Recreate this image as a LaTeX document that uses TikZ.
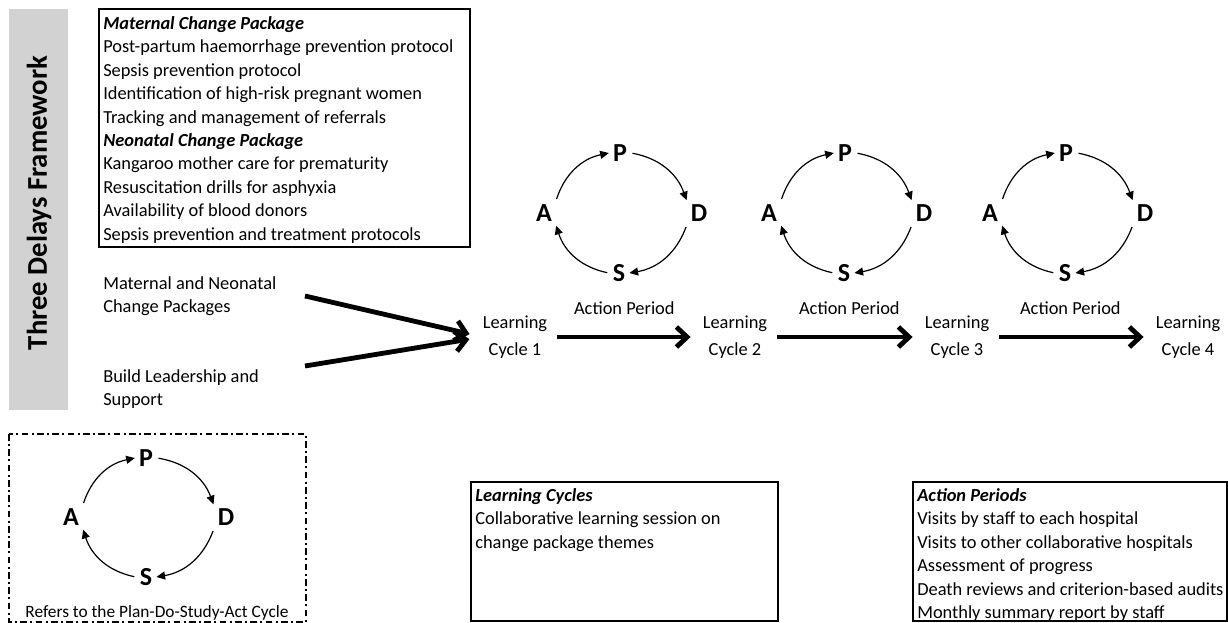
\documentclass[tikz,border=0pt]{standalone}
\usepackage{fontspec}
\setmainfont{Carlito}
\usetikzlibrary{arrows.meta,positioning}
\tikzset{
    x=0.75pt, y=-0.75pt, % one unit is one pixel of the sketch, y runs downwards
    every node/.style={inner sep=0pt, font=\fontsize{13.8}{17.6}\selectfont},
    pdsa/.style={inner sep=3pt, font=\fontsize{19.5}{19.5}\selectfont\bfseries}, % the P, D, S, A letters
    turn/.style={-{Triangle[length=6.5pt,width=6pt]}, line width=0.9pt, bend left=30,
        shorten <=1pt}, % arcs of a cycle
    bigarrow/.style={line width=3.6pt, -{Straight Barb[length=8pt,width=15pt]},
        preaction={draw=black!25, transform canvas={shift={(1.2pt,-1.2pt)}}}},
    listbox/.style={draw, line width=0.8pt},
    lcycle/.style={align=center, font=\fontsize{13.8}{20.3}\selectfont},
}
\begin{document}
\begin{tikzpicture}
  \useasboundingbox (0,0) rectangle (1228,623);

  % Three delays bar
  \fill[gray!35] (9,9) rectangle (68,410);
  \node[rotate=90, font=\fontsize{21.5}{21.5}\selectfont\bfseries] (tdf) at (39,203) {Three Delays Framework};

  % change packages
  \draw[listbox] (99,9) rectangle (470,247);
  \node[anchor=north west, align=left] (pkg) at (103,16) {\textbf{\textit{Maternal Change Package}}\\
    Post-partum haemorrhage prevention protocol\\
    Sepsis prevention protocol\\
    Identification of high-risk pregnant women\\
    Tracking and management of referrals\\
    \textbf{\textit{Neonatal Change Package}}\\
    Kangaroo mother care for prematurity\\
    Resuscitation drills for asphyxia\\
    Availability of blood donors\\
    Sepsis prevention and treatment protocols};

  \node[anchor=west, align=left] (mncp) at (103,296) {Maternal and Neonatal\\Change Packages};
  \node[anchor=west, align=left] (bls) at (103,389) {Build Leadership and\\Support};
  \coordinate (mncp_out) at (305,296);
  \coordinate (bls_out) at (305,366);

  % learning cycles
  \node[lcycle] (lc_1) at (515,337) {Learning\\Cycle 1};
  \node[lcycle] (lc_2) at (735,337) {Learning\\Cycle 2};
  \node[lcycle] (lc_3) at (957,337) {Learning\\Cycle 3};
  \node[lcycle] (lc_4) at (1188,337) {Learning\\Cycle 4};

  \draw[bigarrow, shorten >=10pt] (mncp_out) -- (lc_1.west);
  \draw[bigarrow, shorten >=10pt] (bls_out) -- (lc_1.west);
  \draw[bigarrow, shorten <=7pt, shorten >=9pt] (lc_1) -- (lc_2);
  \draw[bigarrow, shorten <=7pt, shorten >=9pt] (lc_2) -- (lc_3);
  \draw[bigarrow, shorten <=7pt, shorten >=9pt] (lc_3) -- (lc_4);

  % action periods
  \node[pdsa] (p_1) at (620,153) {P};
  \node[pdsa] (d_1) at (699,213) {D};
  \node[pdsa] (s_1) at (619,273) {S};
  \node[pdsa] (a_1) at (544,213) {A};
  \node[below=12pt of s_1, xshift=4pt] (ap_1) {Action Period};
  \path[turn] (p_1.east) edge (d_1.north west) (d_1.south west) edge (s_1.east)
              (s_1.west) edge (a_1.south east) (a_1.north east) edge (p_1.west);

  \node[pdsa] (p_2) at (845,153) {P};
  \node[pdsa] (d_2) at (924,213) {D};
  \node[pdsa] (s_2) at (844,273) {S};
  \node[pdsa] (a_2) at (769,213) {A};
  \node[below=12pt of s_2, xshift=4pt] (ap_2) {Action Period};
  \path[turn] (p_2.east) edge (d_2.north west) (d_2.south west) edge (s_2.east)
              (s_2.west) edge (a_2.south east) (a_2.north east) edge (p_2.west);

  \node[pdsa] (p_3) at (1066,153) {P};
  \node[pdsa] (d_3) at (1145,213) {D};
  \node[pdsa] (s_3) at (1065,273) {S};
  \node[pdsa] (a_3) at (990,213) {A};
  \node[below=12pt of s_3, xshift=4pt] (ap_3) {Action Period};
  \path[turn] (p_3.east) edge (d_3.north west) (d_3.south west) edge (s_3.east)
              (s_3.west) edge (a_3.south east) (a_3.north east) edge (p_3.west);

  % legend
  \draw[dash pattern=on 5pt off 2.5pt on 1.5pt off 2.5pt, line width=0.8pt] (9,434) rectangle (306,622);
  \node[pdsa] (p_0) at (146,458) {P};
  \node[pdsa] (d_0) at (226,517) {D};
  \node[pdsa] (s_0) at (146,577) {S};
  \node[pdsa] (a_0) at (71,517) {A};
  \path[turn] (p_0.east) edge (d_0.north west) (d_0.south west) edge (s_0.east)
              (s_0.west) edge (a_0.south east) (a_0.north east) edge (p_0.west);
  \node[anchor=base, font=\fontsize{13}{16}\selectfont] (pdsa_note) at (157,617) {Refers to the Plan-Do-Study-Act Cycle};

  % notes
  \draw[listbox] (471,482) rectangle (778,621);
  \node[anchor=north west, align=left] (lc_notes) at (475,488) {\textbf{\textit{Learning Cycles}}\\
    Collaborative learning session on\\
    change package themes};
  \draw[listbox] (913,482) rectangle (1227,621);
  \node[anchor=north west, align=left] (ap_notes) at (917,488) {\textbf{\textit{Action Periods}}\\
    Visits by staff to each hospital\\
    Visits to other collaborative hospitals\\
    Assessment of progress\\
    Death reviews and criterion-based audits\\
    Monthly summary report by staff};
\end{tikzpicture}
\end{document}
